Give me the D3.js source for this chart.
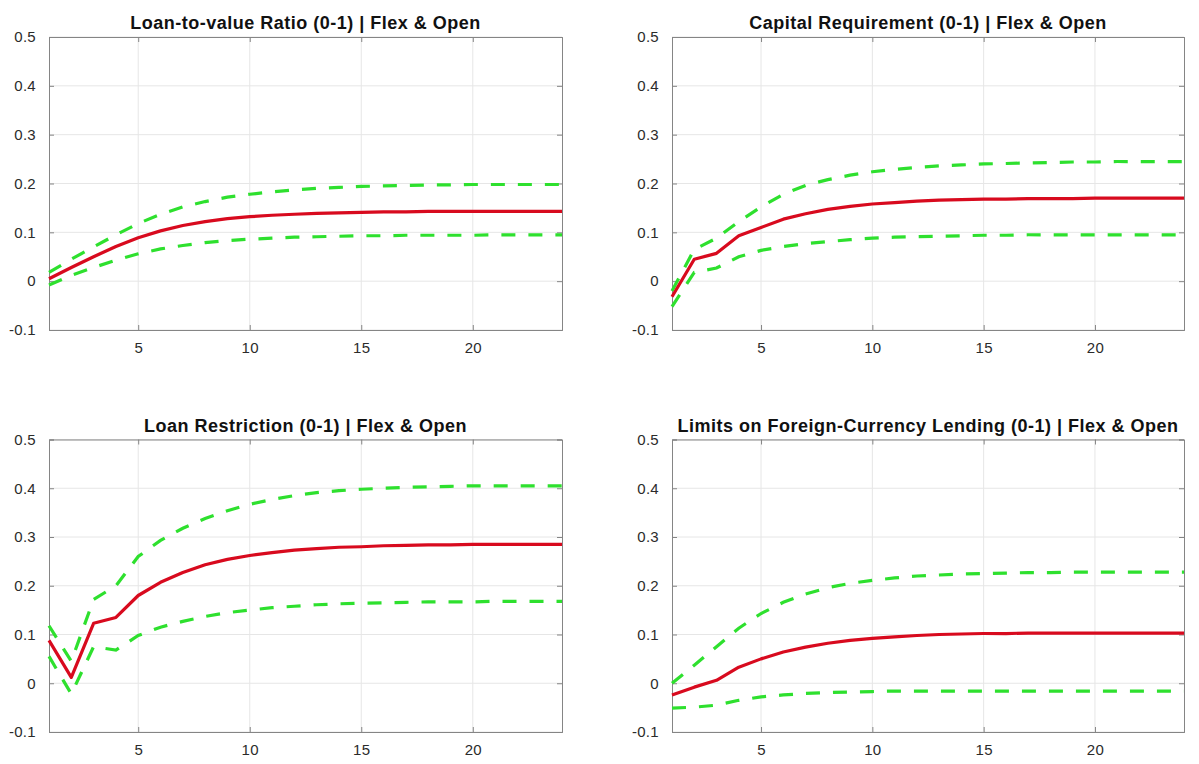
<!DOCTYPE html>
<html>
<head>
<meta charset="utf-8">
<script src="https://cdn.jsdelivr.net/npm/d3@7"></script>
<style>
  html, body { margin: 0; padding: 0; background: #fff; }
  svg { display: block; font-family: "Liberation Sans", Arial, Helvetica, sans-serif; }
</style>
</head>
<body>
<svg id="chart" width="1199" height="764"></svg>
<script>
// Impulse responses (periods 1..24): median (red) and bands (green dashed)
const periods = d3.range(1, 25);
const xTicks = [5, 10, 15, 20];
const yTicks = [-0.1, 0, 0.1, 0.2, 0.3, 0.4, 0.5];
const yTickLabels = ["-0.1", "0", "0.1", "0.2", "0.3", "0.4", "0.5"];

const titles = [
  "Loan-to-value Ratio (0-1) | Flex & Open",
  "Capital Requirement (0-1) | Flex & Open",
  "Loan Restriction (0-1) | Flex & Open",
  "Limits on Foreign-Currency Lending (0-1) | Flex & Open"
];

const ltvMedian = [0.005, 0.028, 0.05, 0.071, 0.089, 0.103, 0.114, 0.122, 0.128, 0.132, 0.135, 0.137, 0.139, 0.140, 0.141, 0.142, 0.142, 0.143, 0.143, 0.143, 0.143, 0.143, 0.143, 0.143];
const ltvUpper  = [0.018, 0.045, 0.07, 0.095, 0.118, 0.137, 0.152, 0.163, 0.172, 0.178, 0.183, 0.187, 0.19, 0.192, 0.194, 0.195, 0.196, 0.197, 0.197, 0.198, 0.198, 0.198, 0.198, 0.198];
const ltvLower  = [-0.008, 0.012, 0.028, 0.043, 0.056, 0.066, 0.073, 0.079, 0.083, 0.086, 0.088, 0.09, 0.091, 0.092, 0.093, 0.093, 0.094, 0.094, 0.094, 0.094, 0.095, 0.095, 0.095, 0.095];

const capMedian = [-0.032, 0.045, 0.057, 0.093, 0.11, 0.127, 0.138, 0.147, 0.153, 0.158, 0.161, 0.164, 0.166, 0.167, 0.168, 0.168, 0.169, 0.169, 0.169, 0.17, 0.17, 0.17, 0.17, 0.17];
const capUpper  = [-0.02, 0.065, 0.088, 0.122, 0.152, 0.178, 0.196, 0.208, 0.217, 0.224, 0.229, 0.233, 0.236, 0.238, 0.24, 0.241, 0.242, 0.243, 0.244, 0.244, 0.245, 0.245, 0.245, 0.245];
const capLower  = [-0.052, 0.018, 0.027, 0.05, 0.063, 0.071, 0.077, 0.081, 0.085, 0.088, 0.09, 0.091, 0.092, 0.093, 0.094, 0.094, 0.095, 0.095, 0.095, 0.095, 0.095, 0.095, 0.095, 0.095];

const lrMedian = [0.088, 0.012, 0.123, 0.135, 0.18, 0.207, 0.227, 0.243, 0.254, 0.262, 0.268, 0.273, 0.276, 0.279, 0.28, 0.282, 0.283, 0.284, 0.284, 0.285, 0.285, 0.285, 0.285, 0.285];
const lrUpper  = [0.118, 0.045, 0.172, 0.2, 0.26, 0.293, 0.318, 0.338, 0.354, 0.367, 0.377, 0.385, 0.391, 0.395, 0.398, 0.4, 0.402, 0.403, 0.404, 0.405, 0.405, 0.405, 0.405, 0.405];
const lrLower  = [0.055, -0.022, 0.075, 0.068, 0.098, 0.115, 0.127, 0.137, 0.145, 0.15, 0.155, 0.158, 0.161, 0.163, 0.164, 0.165, 0.166, 0.167, 0.167, 0.167, 0.168, 0.168, 0.168, 0.168];

const fxMedian = [-0.024, -0.008, 0.006, 0.033, 0.05, 0.064, 0.074, 0.082, 0.088, 0.092, 0.095, 0.098, 0.1, 0.101, 0.102, 0.102, 0.103, 0.103, 0.103, 0.103, 0.103, 0.103, 0.103, 0.103];
const fxUpper  = [0.0, 0.037, 0.075, 0.113, 0.143, 0.166, 0.183, 0.196, 0.205, 0.211, 0.216, 0.22, 0.222, 0.224, 0.225, 0.226, 0.227, 0.227, 0.228, 0.228, 0.228, 0.228, 0.228, 0.228];
const fxLower  = [-0.051, -0.049, -0.045, -0.035, -0.028, -0.024, -0.021, -0.019, -0.018, -0.017, -0.016, -0.016, -0.016, -0.016, -0.016, -0.016, -0.016, -0.016, -0.016, -0.016, -0.016, -0.016, -0.016, -0.016];

const panels = [
  { title: titles[0], median: ltvMedian, upper: ltvUpper, lower: ltvLower, box: { left: 49, right: 562, top: 37, bottom: 330 } },
  { title: titles[1], median: capMedian, upper: capUpper, lower: capLower, box: { left: 672, right: 1184, top: 37, bottom: 330 } },
  { title: titles[2], median: lrMedian, upper: lrUpper, lower: lrLower, box: { left: 49, right: 562, top: 439.5, bottom: 732 } },
  { title: titles[3], median: fxMedian, upper: fxUpper, lower: fxLower, box: { left: 672, right: 1184, top: 439.5, bottom: 732 } }
];

const svg = d3.select("#chart");

panels.forEach(p => {
  const b = p.box;
  const x = d3.scaleLinear().domain([1, 24]).range([b.left, b.right]);
  const y = d3.scaleLinear().domain([-0.1, 0.5]).range([b.bottom, b.top]);
  const g = svg.append("g");

  // grid
  g.append("g").selectAll("line").data(xTicks).join("line")
    .attr("x1", d => x(d)).attr("x2", d => x(d))
    .attr("y1", b.top).attr("y2", b.bottom)
    .attr("stroke", "#e6e6e6").attr("stroke-width", 1);
  g.append("g").selectAll("line").data(yTicks).join("line")
    .attr("x1", b.left).attr("x2", b.right)
    .attr("y1", d => y(d)).attr("y2", d => y(d))
    .attr("stroke", "#e6e6e6").attr("stroke-width", 1);

  // axes with inward ticks on all four sides
  const axB = d3.axisBottom(x).tickValues(xTicks).tickSize(-5).tickPadding(12).tickFormat(d3.format("d"));
  const axT = d3.axisTop(x).tickValues(xTicks).tickSize(-5).tickFormat("");
  const axL = d3.axisLeft(y).tickValues(yTicks).tickSize(-5).tickPadding(13)
    .tickFormat((d, i) => yTickLabels[i]);
  const axR = d3.axisRight(y).tickValues(yTicks).tickSize(-5).tickFormat("");

  const style = sel => {
    sel.select(".domain").attr("stroke", "#858585");
    sel.selectAll(".tick line").attr("stroke", "#858585");
    sel.selectAll(".tick text").attr("fill", "#2b2b2b").style("font-size", "15px")
      .style("letter-spacing", "0.3px")
      .style("font-family", "'Liberation Sans', Arial, sans-serif");
  };
  g.append("g").attr("transform", `translate(0,${b.bottom})`).call(axB).call(style);
  g.append("g").attr("transform", `translate(0,${b.top})`).call(axT).call(style);
  g.append("g").attr("transform", `translate(${b.left},0)`).call(axL).call(style);
  g.append("g").attr("transform", `translate(${b.right},0)`).call(axR).call(style);

  const line = d3.line().x((d, i) => x(periods[i])).y(d => y(d));

  // confidence bands
  [p.upper, p.lower].forEach(arr => {
    g.append("path").datum(arr)
      .attr("d", line)
      .attr("fill", "none")
      .attr("stroke", "#2ee02e")
      .attr("stroke-width", 3.2)
      .attr("stroke-dasharray", "14,13");
  });

  // median response
  g.append("path").datum(p.median)
    .attr("d", line)
    .attr("fill", "none")
    .attr("stroke", "#d80a1e")
    .attr("stroke-width", 3.2)
    .attr("stroke-linejoin", "round");

  // title
  svg.append("text")
    .attr("x", (b.left + b.right) / 2)
    .attr("y", b.top - 8)
    .attr("text-anchor", "middle")
    .style("font-size", "18px")
    .style("font-weight", "bold")
    .style("letter-spacing", "0.5px")
    .attr("fill", "#111")
    .text(p.title);
});
</script>
</body>
</html>
